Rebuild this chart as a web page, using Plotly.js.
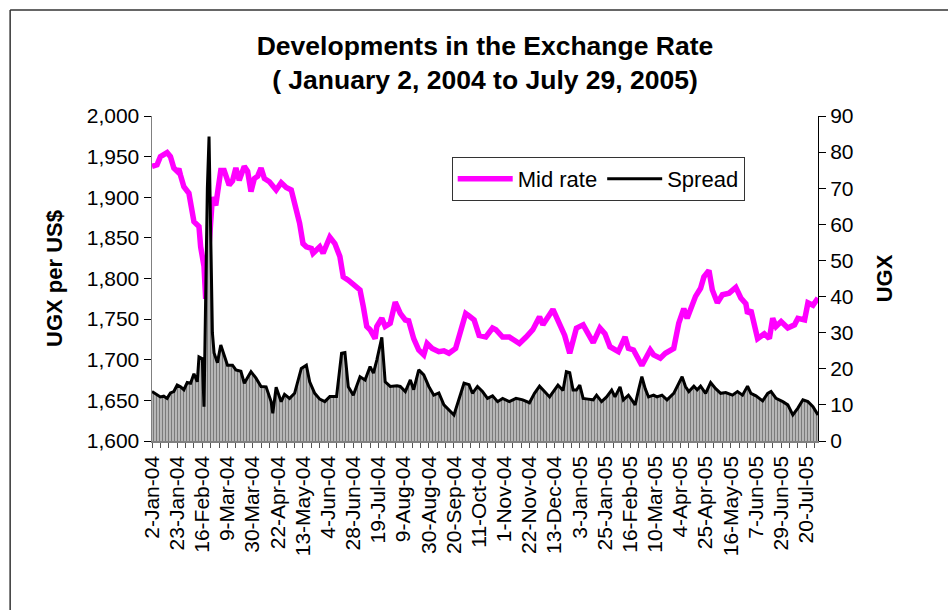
<!DOCTYPE html>
<html>
<head>
<meta charset="utf-8">
<script src="https://cdn.plot.ly/plotly-3.0.1.min.js"></script>
<style>
  body { margin: 0; background: #fff; }
  #chart { width: 948px; height: 610px; }
</style>
</head>
<body>
<div id="chart"></div>
<script>
// trading day index (0 = 2-Jan-04) and the UGX/US$ mid rate
const midDay = [0,3,5,9,11,13,15,16,17,19,22,24,25,28,29,31,32,34,35,36,
  38,39,41,43,46,48,50,52,55,57,59,61,63,65,67,70,74,77,80,83,
  86,88,90,92,95,96,100,102,106,109,112,114,117,121,124,126,128,130,133,134,
  137,139,142,145,148,151,153,156,159,162,164,167,171,174,177,181,184,187,189,192,
  195,199,203,205,209,213,216,219,223,227,231,233,239,243,246,249,251,253,257,260,
  263,267,270,273,278,282,284,287,292,297,299,303,306,311,314,317,319,324,327,329,
  332,334,337,340,344,348,351,354,355,357,361,365,368,370,372,375,379,383,385,389,
  391,394,397];
const midRate = [1938,1940,1950,1955,1950,1936,1932,1935,1927,1913,
  1905,1884,1870,1864,1839,1815,1775,1840,1880,1900,
  1890,1905,1933,1933,1915,1920,1936,1921,1938,1932,
  1907,1923,1926,1936,1923,1919,1909,1918,1912,1909,
  1888,1868,1843,1839,1837,1831,1839,1831,1851,1843,
  1827,1802,1798,1790,1786,1765,1741,1737,1726,1741,
  1751,1741,1745,1771,1757,1749,1748,1726,1712,1706,
  1720,1714,1710,1711,1708,1714,1737,1757,1754,1749,
  1730,1728,1739,1737,1728,1728,1724,1720,1728,1737,
  1753,1743,1762,1743,1730,1708,1724,1739,1743,1732,
  1721,1739,1732,1716,1710,1728,1714,1712,1693,1712,
  1706,1702,1708,1714,1745,1763,1751,1778,1788,1802,
  1810,1786,1770,1780,1782,1789,1776,1769,1757,1761,
  1726,1732,1726,1751,1741,1747,1739,1743,1751,1749,
  1770,1767,1776];

// spread (UGX), right axis
const spreadDay = [0,3,5,7,9,11,13,15,17,19,21,23,25,27,28,30,31,32,33,34,
  35,36,37,39,41,43,45,48,50,53,55,59,62,65,68,71,72,74,77,79,
  82,85,89,92,94,97,100,103,106,110,113,115,117,120,124,127,130,132,134,137,
  139,142,146,148,151,154,156,159,162,165,168,171,174,180,183,186,189,191,194,197,
  200,203,206,209,213,217,221,225,228,231,234,237,242,245,247,249,251,253,255,257,
  260,263,265,268,271,274,276,279,281,284,286,288,290,292,294,296,299,301,304,307,
  311,314,316,318,320,323,325,327,330,333,336,339,342,346,349,352,355,357,360,364,
  367,369,372,376,379,382,385,388,391,394,397];
const spread = [13.7,12.7,12.2,12.4,11.8,13.3,13.7,15.5,15.0,14.2,
  16.2,16.0,18.6,16.4,23.3,22.8,9.5,40,70,84.3,
  60,30,24.4,21.7,26.6,23.5,21.0,21.0,19.7,19.3,
  16.0,19.2,17.4,15.1,15.0,10.9,7.7,14.9,10.9,12.9,
  11.8,13.2,20.1,21.0,16.4,13.2,11.6,10.9,12.3,12.3,
  24.3,24.5,15.0,12.7,17.8,16.9,20.6,18.8,22.4,28.7,
  16.4,15.1,15.3,15.1,13.7,16.9,14.2,19.7,18.3,15.1,
  12.7,13.3,10.0,7.2,11.4,16.0,15.6,13.2,15.1,13.7,
  11.8,12.5,10.9,11.8,10.9,11.8,11.4,10.6,13.2,15.2,
  13.7,12.2,15.5,14.0,19.2,18.9,14.1,14.1,15.5,11.8,
  11.6,11.4,12.7,10.9,12.2,14.1,12.2,15.0,11.4,12.7,
  11.4,10.0,14.1,17.8,14.5,12.2,12.7,12.2,12.7,11.4,
  13.2,16.0,17.8,15.1,13.7,15.2,14.2,15.2,13.2,16.2,
  14.5,13.2,13.4,12.7,13.7,12.7,15.2,13.2,12.5,11.1,
  13.2,13.7,11.8,10.9,10.0,7.2,9.1,11.4,10.9,9.5,
  7.2];

// category labels, one every 15 trading days
const dateLabels = ['2-Jan-04','23-Jan-04','16-Feb-04','9-Mar-04','30-Mar-04','22-Apr-04',
  '13-May-04','4-Jun-04','28-Jun-04','19-Jul-04','9-Aug-04','30-Aug-04','20-Sep-04',
  '11-Oct-04','1-Nov-04','22-Nov-04','13-Dec-04','3-Jan-05','25-Jan-05','16-Feb-05',
  '10-Mar-05','4-Apr-05','25-Apr-05','16-May-05','7-Jun-05','29-Jun-05','20-Jul-05'];
const labelDays = dateLabels.map((d, i) => i * 15);

const FONT = 'Liberation Sans, Arial, sans-serif';

const traces = [
  {
    x: midDay, y: midRate,
    type: 'scatter', mode: 'lines',
    name: 'Mid rate',
    line: { color: '#ff00ff', width: 5.5 }
  },
  {
    x: spreadDay, y: spread,
    type: 'scatter', mode: 'lines',
    yaxis: 'y2',
    fill: 'tozeroy',
    fillpattern: { shape: '|', fgcolor: '#7a7a7a', bgcolor: '#ffffff', size: 3, solidity: 0.7 },
    line: { width: 0 },
    showlegend: false,
    hoverinfo: 'skip'
  },
  {
    x: spreadDay, y: spread,
    type: 'scatter', mode: 'lines',
    yaxis: 'y2',
    name: 'Spread',
    line: { color: '#000000', width: 3 }
  }
];

// outer frame of the chart object
const frameLine = { color: '#333333', width: 1.5 };

const layout = {
  width: 948,
  height: 610,
  margin: { l: 152, r: 130, t: 116, b: 169 },
  paper_bgcolor: '#ffffff',
  plot_bgcolor: '#ffffff',
  font: { family: FONT, color: '#000000' },
  title: {
    text: '<b>Developments in the Exchange Rate<br>( January 2, 2004 to July 29, 2005)</b>',
    font: { family: FONT, size: 26.5, color: '#000000' },
    x: 0.5, xref: 'paper', xanchor: 'center',
    y: 0.91, yref: 'container', yanchor: 'top'
  },
  xaxis: {
    range: [0, 397],
    tickmode: 'array',
    tickvals: labelDays,
    ticktext: dateLabels,
    tickangle: -90,
    tickfont: { size: 21 },
    ticks: 'outside', ticklen: 5, tickcolor: '#555555',
    minor: { dtick: 5, tick0: 0, ticks: 'outside', ticklen: 5, tickcolor: '#555555' },
    showline: true, linecolor: '#808080', linewidth: 1.5,
    showgrid: false, zeroline: false
  },
  yaxis: {
    range: [1600, 2000],
    dtick: 50,
    tickformat: ',d',
    tickfont: { size: 21 },
    ticks: 'outside', ticklen: 7, tickcolor: '#000000',
    showline: true, linecolor: '#808080', linewidth: 1.5,
    showgrid: false, zeroline: false,
    title: { text: '<b>UGX per US$</b>', font: { size: 22 }, standoff: 18 }
  },
  yaxis2: {
    overlaying: 'y',
    side: 'right',
    range: [0, 90],
    dtick: 10,
    tickfont: { size: 21 },
    ticks: 'outside', ticklen: 7, tickcolor: '#000000',
    showline: true, linecolor: '#000000', linewidth: 1,
    showgrid: false, zeroline: false,
    title: { text: '<b>UGX</b>', font: { size: 22 }, standoff: 24 }
  },
  // inner half of the crossing tick marks on the right axis
  yaxis3: {
    overlaying: 'y',
    side: 'right',
    range: [0, 90],
    dtick: 10,
    ticks: 'inside', ticklen: 7, tickcolor: '#000000',
    showticklabels: false,
    showline: false, showgrid: false, zeroline: false
  },
  showlegend: true,
  legend: {
    orientation: 'h',
    x: 0.45, xanchor: 'left',
    y: 0.874, yanchor: 'top',
    bgcolor: '#ffffff',
    bordercolor: '#333333',
    borderwidth: 1,
    font: { size: 22 },
    itemwidth: 55,
    traceorder: 'normal'
  },
  shapes: [
    { type: 'line', xref: 'paper', yref: 'paper', x0: -0.213, x1: 1.25, y0: 1.326, y1: 1.326, line: frameLine },
    { type: 'line', xref: 'paper', yref: 'paper', x0: -0.213, x1: -0.213, y0: -0.6, y1: 1.326, line: frameLine }
  ]
};

Plotly.newPlot('chart', traces, layout, { displayModeBar: false, staticPlot: true });
</script>
</body>
</html>
